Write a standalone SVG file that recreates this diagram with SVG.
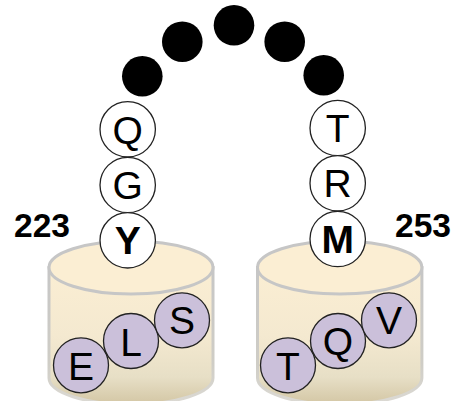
<svg xmlns="http://www.w3.org/2000/svg" width="456" height="401" viewBox="0 0 456 401">
  <style>
    text { font-family: "Liberation Sans", Arial, sans-serif; fill: #000; text-anchor: middle; }
    .res { font-size: 39px; }
    .key { font-size: 39px; font-weight: bold; }
    .num { font-size: 33.6px; font-weight: bold; text-anchor: start; }
    .link { fill: #000; }
    .free { fill: #fff; stroke: #222; stroke-width: 1.3; }
    .bound { fill: #cbc0da; stroke: #222; stroke-width: 1.3; }
    .wall { fill: url(#body); stroke: url(#rim); stroke-width: 3; }
    .lid { fill: #fbeed3; stroke: #c6c6c6; stroke-width: 3; }
  </style>
  <defs>
    <linearGradient id="body" x1="0" y1="0" x2="0" y2="1">
      <stop offset="0" stop-color="#fbeed3"/>
      <stop offset="0.5" stop-color="#f4e9d0"/>
      <stop offset="0.8" stop-color="#e7dfc6"/>
      <stop offset="1" stop-color="#d3c6a4"/>
    </linearGradient>
    <linearGradient id="rim" x1="0" y1="0" x2="0" y2="1">
      <stop offset="0" stop-color="#c6c6c6"/>
      <stop offset="0.7" stop-color="#cfcdc6"/>
      <stop offset="1" stop-color="#dcdad4"/>
    </linearGradient>
  </defs>

  <g id="pocket-223">
    <path class="wall" d="M49 267.5V378A82 26.5 0 0 0 213 378V267.5Z"/>
    <ellipse class="lid" cx="131" cy="267.5" rx="82" ry="26.5"/>
  </g>
  <g id="pocket-253">
    <path class="wall" d="M257.5 267.5V378A82.2 26.5 0 0 0 421.9 378V267.5Z"/>
    <ellipse class="lid" cx="339.7" cy="267.5" rx="82.2" ry="26.5"/>
  </g>

  <g id="linker">
    <circle class="link" cx="142.3" cy="76.3" r="20.3"/>
    <circle class="link" cx="182.3" cy="41.7" r="20.3"/>
    <circle class="link" cx="234" cy="25.3" r="20.3"/>
    <circle class="link" cx="284.7" cy="41.7" r="20.3"/>
    <circle class="link" cx="323.7" cy="75.3" r="20.3"/>
  </g>

  <g id="res-Q-left"><circle class="free" cx="127.7" cy="129.3" r="27.7"/><text class="res" x="127.7" y="143.5">Q</text></g>
  <g id="res-G"><circle class="free" cx="127.7" cy="185" r="27.7"/><text class="res" x="127.7" y="198.5">G</text></g>
  <g id="res-Y"><circle class="free" cx="127.7" cy="240.3" r="27.7"/><text class="key" x="127.7" y="254">Y</text></g>
  <g id="res-T-top"><circle class="free" cx="337.7" cy="128" r="27.7"/><text class="res" x="337.7" y="142">T</text></g>
  <g id="res-R"><circle class="free" cx="337.7" cy="183.3" r="27.7"/><text class="res" x="337.7" y="197">R</text></g>
  <g id="res-M"><circle class="free" cx="337.7" cy="239" r="27.7"/><text class="key" x="337.7" y="253">M</text></g>

  <g id="res-E"><circle class="bound" cx="81" cy="365.3" r="27.5"/><text class="res" x="81" y="379.5">E</text></g>
  <g id="res-L"><circle class="bound" cx="131" cy="341" r="27.5"/><text class="res" x="131" y="355.5">L</text></g>
  <g id="res-S"><circle class="bound" cx="182" cy="320.3" r="27.5"/><text class="res" x="182" y="334">S</text></g>
  <g id="res-T-low"><circle class="bound" cx="288" cy="365.3" r="27.5"/><text class="res" x="288" y="379.5">T</text></g>
  <g id="res-Q-low"><circle class="bound" cx="338" cy="341" r="27.5"/><text class="res" x="338" y="355">Q</text></g>
  <g id="res-V"><circle class="bound" cx="389" cy="320.3" r="27.5"/><text class="res" x="389" y="334">V</text></g>

  <g id="labels">
    <text class="num" x="14" y="237">223</text>
    <text class="num" x="395" y="236.5">253</text>
  </g>
</svg>
